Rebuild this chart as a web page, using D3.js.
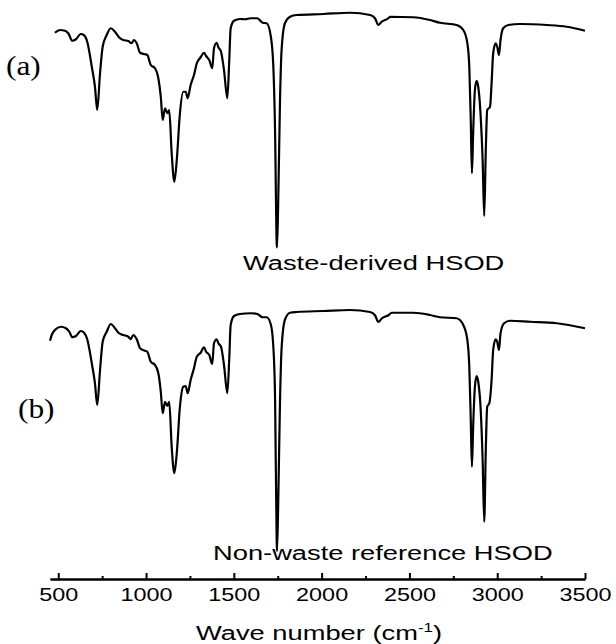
<!DOCTYPE html>
<html>
<head>
<meta charset="utf-8" />
<title>FTIR spectra</title>
<style type="text/css">
    body { margin: 0; background: #fff; }
    svg { display: block; background: #fff; }
    .spec { fill: none; stroke: #000; stroke-width: 2.2px; stroke-linejoin: round; }
    .axis path, .axis line { stroke: #000; stroke-width: 2px; }
    .axis text { font-family: "Liberation Sans", Arial, sans-serif; font-size: 18px; fill: #000; }
    .lbl { font-family: "Liberation Sans", Arial, sans-serif; fill: #000; }
    .panel { font-family: "Liberation Serif", "Times New Roman", serif; font-size: 28px; fill: #000; }
</style>
<script src="https://cdn.jsdelivr.net/npm/d3@7/dist/d3.min.js"></script>
</head>
<body>
<div id="chart"></div>
<script type="text/javascript">
// spectrum (a): waste-derived HSOD
var wnA = [481,510,538,557,580,601,628,647,665,691,709,722,738,753,776,799,823,846,870,899,
    918,931,947,966,994,1007,1027,1051,1070,1084,1095,1108,1121,1132,1146,1161,1175,1193,1212,1226,
    1237,1254,1273,1289,1311,1330,1342,1360,1377,1387,1402,1412,1427,1444,1463,1474,1482,1501,1535,1564,
    1596,1634,1664,1687,1711,1725,1735,1744,1746,1753,1763,1772,1791,1820,1858,2010,2162,2276,2304,2323,
    2342,2380,2390,2522,2617,2674,2769,2807,2830,2841,2849,2856,2863,2873,2883,2892,2906,2917,2926,2935,
    2943,2959,2968,2977,2991,3000,3010,3019,3034,3063,3130,3282,3396,3500];
var tA = [90.9,92,91.7,90.7,87.7,88.3,90.4,89.9,87.3,77.3,69.3,60,74.7,85.3,90,92.7,91.3,89.1,88,87.6,
    86.7,88,86.7,82.9,82.3,82,78,76.7,72.7,65.3,56,60.7,58.7,60,42.7,31.3,40,58.7,67.3,67.3,
    64.7,70,74,78.7,81.1,82.9,81.6,80,76.7,84.7,86.9,85.1,83.3,76,64.7,80,92.7,95.7,96.4,96.3,
    96.7,96.7,94.9,94.7,89.3,77.3,50.8,6.8,5,24,64,84,94.7,97.3,98,98.4,98.9,98,96.7,94,
    95.3,96.7,97.3,97.1,96,94.9,94,92,86.7,77.3,57.3,34.7,50.8,68,71.7,69.3,57.3,40,17.6,44,
    60,61.3,70.7,82.7,86.7,85.3,82,88,92.7,94,94.4,94,93.3,91.7];

// spectrum (b): non-waste reference HSOD
var wnB = [453,463,481,514,544,563,580,601,628,647,665,691,709,722,738,753,776,799,823,846,
    870,899,912,927,947,966,994,1007,1027,1051,1070,1084,1095,1108,1121,1132,1146,1161,1175,1193,
    1212,1226,1237,1254,1273,1289,1311,1330,1342,1360,1377,1387,1402,1412,1427,1444,1463,1474,1482,1501,
    1535,1596,1634,1664,1687,1710,1725,1735,1744,1746,1753,1763,1772,1791,1820,1858,2010,2162,2276,2304,
    2323,2342,2380,2399,2522,2617,2674,2769,2807,2830,2841,2849,2856,2863,2873,2883,2892,2906,2917,2926,
    2935,2943,2955,2968,2977,2991,3000,3010,3019,3039,3073,3187,3339,3500];
var tB = [86.1,88.4,90.4,91.7,91.1,89.7,87.5,88,90,89.3,86.7,77.1,69.1,60.4,74.4,85.7,89.7,92.8,91.1,89.1,
    88.4,87.7,86.7,88.4,86.7,83.1,82.1,81.7,77.7,76.4,73.1,65.7,57.1,61.7,60,61.7,43.7,33.1,41.1,59.7,
    67.7,68,65.1,70.4,75.1,79.7,81.3,83.5,81.7,80.4,76.8,85.1,86.7,85.1,83.7,76.4,65.1,79.1,92.4,96,
    96.8,97.1,96.8,95.5,95.5,92.8,83.7,62.4,6,2,22,62,83,94.5,97.3,97.6,98,98.4,97.6,96.3,
    93.6,95,96.3,97.3,97.3,96.4,95.5,95.1,92.4,86.4,75.7,55.7,35.7,51.7,67.7,72,69.7,58.4,38.4,13.7,
    42.4,59.7,61.1,70.4,82.4,86.7,85.7,82.4,89.1,93.1,94.1,93.7,93.1,91.1];

var majorTicks = [500,1000,1500,2000,2500,3000,3500];
var minorTicks = [750,1250,1750,2250,2750,3250];
var panelLabels = ["(a)", "(b)"];
var sampleNames = ["Waste-derived HSOD", "Non-waste reference HSOD"];
var axisTitle = "Wave number (cm";

var width = 616, height = 644;
var axisY = 579;

var svg = d3.select("#chart").append("svg")
    .attr("width", width).attr("height", height);

var x = d3.scaleLinear().domain([453, 3500]).range([50, 585]);
var yA = d3.scaleLinear().domain([0, 100]).range([260, 10]);
var yB = d3.scaleLinear().domain([0, 100]).range([556, 306]);

function drawSpectrum(wn, t, y) {
    var pts = wn.map(function (d, i) { return [d, t[i]]; });
    var line = d3.line()
        .x(function (d) { return x(d[0]); })
        .y(function (d) { return y(d[1]); })
        .curve(d3.curveMonotoneX);
    svg.append("path").datum(pts).attr("class", "spec").attr("d", line);
}
drawSpectrum(wnA, tA, yA);
drawSpectrum(wnB, tB, yB);

// minor ticks first, then main axis with labels
svg.append("g").attr("class", "axis")
    .attr("transform", "translate(0," + axisY + ")")
    .call(d3.axisBottom(x).tickValues(minorTicks).tickSize(-3).tickSizeOuter(0).tickFormat(""));

var xAxisG = svg.append("g").attr("class", "axis")
    .attr("transform", "translate(0," + axisY + ")")
    .call(d3.axisBottom(x).tickValues(majorTicks).tickSizeInner(-6).tickSizeOuter(0)
        .tickPadding(9).tickFormat(d3.format("d")));
xAxisG.selectAll("text").attr("transform", "scale(1.3,1)");

// axis title
var title = svg.append("text").attr("class", "lbl")
    .attr("text-anchor", "middle")
    .attr("transform", "translate(319,640) scale(1.3,1)")
    .style("font-size", "21px");
title.append("tspan").text(axisTitle);
title.append("tspan").attr("dy", -8).style("font-size", "13px").text("-1");
title.append("tspan").attr("dy", 8).text(")");

// sample names
svg.append("text").attr("class", "lbl")
    .attr("transform", "translate(243,270) scale(1.3,1)")
    .style("font-size", "21px").text(sampleNames[0]);
svg.append("text").attr("class", "lbl")
    .attr("transform", "translate(213,560) scale(1.3,1)")
    .style("font-size", "21px").text(sampleNames[1]);

// panel letters
svg.append("text").attr("class", "panel")
    .attr("transform", "translate(6,75) scale(1.12,1)").text(panelLabels[0]);
svg.append("text").attr("class", "panel")
    .attr("transform", "translate(18,418) scale(1.12,1)").text(panelLabels[1]);
</script>
</body>
</html>
